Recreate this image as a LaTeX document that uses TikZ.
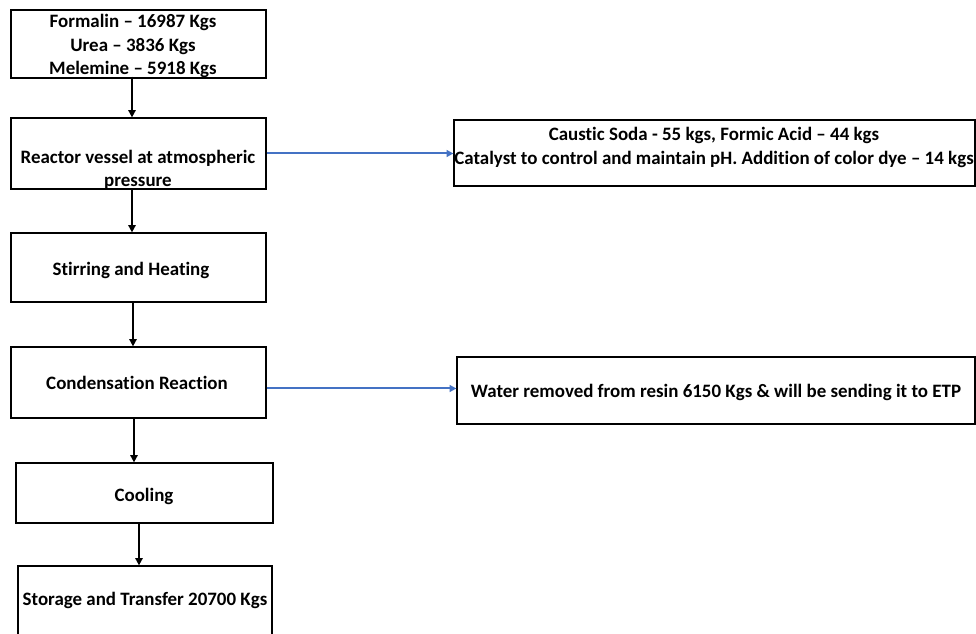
\documentclass[tikz,border=0pt]{standalone}
\usepackage{fontspec}
\setmainfont{Carlito}[Ligatures=NoCommon]
\usetikzlibrary{arrows.meta}
\definecolor{officeblue}{HTML}{4472C4}
\begin{document}
\begin{tikzpicture}[x=0.75pt,y=-0.75pt,
  box/.style={draw=black,line width=0.9pt,inner sep=0pt,fill=none},
  lbl/.style={font=\fontsize{14.2pt}{17.5pt}\selectfont\bfseries,align=center,inner sep=0pt},
  arr/.style={-{Triangle[length=5.5pt,width=5.5pt]},line width=1.3pt,black},
  barr/.style={-{Triangle[length=5pt,width=5pt]},line width=1.5pt,officeblue}]
\useasboundingbox (0,0) rectangle (976,634);
\fill[white] (0,0) rectangle (976,634);
% left column boxes
\node[box,minimum width=255*0.75pt,minimum height=68*0.75pt] (b1) at (138.5,44) {};
\node[box,minimum width=255*0.75pt,minimum height=71*0.75pt] (b2) at (138.5,153.5) {};
\node[box,minimum width=255*0.75pt,minimum height=69*0.75pt] (b3) at (138.5,267.5) {};
\node[box,minimum width=255*0.75pt,minimum height=71*0.75pt] (b4) at (138.5,382.5) {};
\node[box,minimum width=257*0.75pt,minimum height=60*0.75pt] (b5) at (144.5,493) {};
\node[box,minimum width=254*0.75pt,minimum height=80*0.75pt] (b6) at (145,606) {};
% right boxes
\node[box,minimum width=521*0.75pt,minimum height=66*0.75pt] (r1) at (714.5,153) {};
\node[box,minimum width=518*0.75pt,minimum height=67*0.75pt] (r2) at (716,390.5) {};
% texts
\node[lbl] (t1) at (133,46) {Formalin – 16987 Kgs\\Urea – 3836 Kgs\\Melemine – 5918 Kgs};
\node[lbl] (t2) at (138,170) {Reactor vessel at atmospheric\\pressure};
\node[lbl] (t3) at (131,270) {Stirring and Heating};
\node[lbl] (t4) at (137,383) {Condensation Reaction};
\node[lbl] (t5) at (144,496) {Cooling};
\node[lbl] (t6) at (145,600) {Storage and Transfer 20700 Kgs};
\node[lbl] (t7) at (714,147.5) {Caustic Soda - 55 kgs, Formic Acid – 44 kgs\\Catalyst to control and maintain pH. Addition of color dye – 14 kgs};
\node[lbl] (t8) at (716,392) {Water removed from resin 6150 Kgs \& will be sending it to ETP};
% connectors
\draw[arr] ([xshift=-6.5*0.75pt,yshift=1.5pt]b1.south) -- ([xshift=-6.5*0.75pt]b2.north);
\draw[arr] ([xshift=-6.5*0.75pt]b2.south) -- ([xshift=-6.5*0.75pt]b3.north);
\draw[arr] ([xshift=-5.5*0.75pt]b3.south) -- ([xshift=-5.5*0.75pt]b4.north);
\draw[arr] ([xshift=-4.5*0.75pt]b4.south) -- ([xshift=-4.5*0.75pt]b4.south |- b5.north);
\draw[arr] ([xshift=-5.5*0.75pt]b5.south) -- ([xshift=-5.5*0.75pt]b5.south |- b6.north);
\draw[barr] (b2.east) -- (b2.east -| r1.west);
\draw[barr] ([yshift=-6*0.75pt]b4.east) -- ([yshift=-6*0.75pt]b4.east -| r2.west);
\end{tikzpicture}
\end{document}
